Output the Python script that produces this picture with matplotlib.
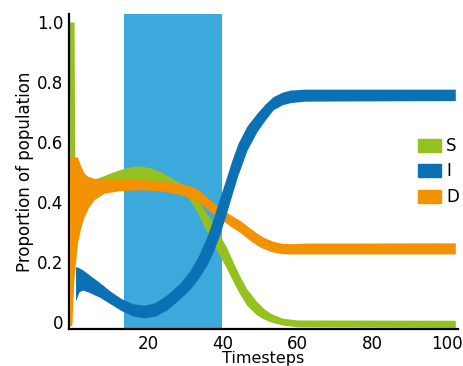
import matplotlib
matplotlib.use("Agg")
import matplotlib.pyplot as plt
import matplotlib.patches as mpatches

# intervention window (timesteps)
lockdown = (13.6, 39.8)

# S band: time, max and min over runs
s_t = [-1.1, -0.9, 0.2, 0.4, 1, 3, 6.3, 8, 10, 13, 16, 18, 21, 24, 27, 29, 31, 33, 35, 37,
       39, 41, 43, 44.5, 46.5, 49, 51, 53, 56, 60, 102.3]
s_hi = [1.0, 1.0, 1.0, 0.54, 0.5, 0.47, 0.479, 0.487, 0.497, 0.51, 0.519, 0.52, 0.513, 0.497,
        0.475, 0.46, 0.44, 0.41, 0.375, 0.34, 0.295, 0.25, 0.195, 0.155, 0.11, 0.07, 0.045,
        0.028, 0.013, 0.007, 0.006]
s_lo = [1.0, 0.45, 0.45, 0.45, 0.45, 0.45, 0.45, 0.45, 0.45, 0.45, 0.45, 0.45, 0.45, 0.45,
        0.45, 0.435, 0.41, 0.37, 0.32, 0.27, 0.225, 0.18, 0.13, 0.095, 0.055, 0.025, 0.01,
        0.0, -0.01, -0.016, -0.018]

# D band
d_t = [-1.0, -0.4, 0.2, 1.1, 2, 2.9, 4, 5.5, 8.2, 12, 16, 20, 24, 28.6, 31, 33, 35, 37.5,
       40, 42, 44.7, 47, 49.2, 51, 53.5, 56, 58, 62, 102.3]
d_hi = [0.55, 0.55, 0.55, 0.55, 0.52, 0.496, 0.485, 0.479, 0.478, 0.477, 0.476, 0.473, 0.469,
        0.462, 0.455, 0.445, 0.425, 0.398, 0.374, 0.358, 0.338, 0.316, 0.296, 0.282, 0.269,
        0.262, 0.261, 0.263, 0.264]
d_lo = [-0.012, -0.012, 0.15, 0.263, 0.315, 0.351, 0.38, 0.407, 0.429, 0.437, 0.44, 0.44,
        0.436, 0.425, 0.415, 0.402, 0.385, 0.36, 0.338, 0.32, 0.298, 0.275, 0.256, 0.244,
        0.233, 0.228, 0.227, 0.227, 0.227]

# I band
i_t = [0.6, 1.5, 2.5, 4, 7, 10, 13, 16, 19, 22, 25, 28.6, 31.3, 33.5, 35.8, 37.5, 39, 40.7,
       42.5, 44.1, 46.5, 49.2, 51.5, 53.5, 56, 58.1, 62, 102.3]
i_hi = [0.185, 0.181, 0.174, 0.16, 0.132, 0.102, 0.077, 0.061, 0.056, 0.065, 0.09, 0.13,
        0.172, 0.22, 0.285, 0.345, 0.405, 0.47, 0.54, 0.595, 0.653, 0.696, 0.728, 0.751,
        0.766, 0.773, 0.776, 0.776]
i_lo = [0.07, 0.1, 0.107, 0.1, 0.083, 0.06, 0.037, 0.02, 0.014, 0.02, 0.04, 0.078, 0.11,
        0.145, 0.19, 0.235, 0.285, 0.35, 0.425, 0.49, 0.572, 0.635, 0.675, 0.707, 0.724,
        0.731, 0.736, 0.738]

labels = ["S", "I", "D"]
colors = {"S": "#95c11f", "I": "#0b71b4", "D": "#f39200"}
xticks = [20, 40, 60, 80, 100]
yticks = [0, 0.2, 0.4, 0.6, 0.8, 1.0]
ytick_labels = ["0", "0.2", "0.4", "0.6", "0.8", "1.0"]

fig = plt.figure(figsize=(4.63, 3.66), dpi=100)
ax = fig.add_axes([0.149, 0.101, 0.84, 0.861])

ax.axvspan(lockdown[0], lockdown[1], color="#3ba9dc", lw=0, zorder=1)
ax.fill_between(s_t, s_lo, s_hi, color=colors["S"], lw=0, zorder=2)
ax.fill_between(d_t, d_lo, d_hi, color=colors["D"], lw=0, zorder=3)
ax.fill_between(i_t, i_lo, i_hi, color=colors["I"], lw=0, zorder=4)

ax.set_xlim(-1.15, 103)
ax.set_ylim(-0.0233, 1.0267)
ax.set_xticks(xticks)
ax.set_yticks(yticks)
ax.set_yticklabels(ytick_labels)
ax.tick_params(length=0, labelsize=12, pad=4)
for side in ("top", "right"):
    ax.spines[side].set_visible(False)
for side in ("left", "bottom"):
    ax.spines[side].set_linewidth(1.6)
ax.set_xlabel("Timesteps", fontsize=11.5, labelpad=-1)
ax.set_ylabel("Proportion of population", fontsize=12, labelpad=2)

handles = [mpatches.Patch(color=colors[k], label=k) for k in labels]
ax.legend(handles=handles, loc="center left", bbox_to_anchor=(0.897, 0.5), frameon=False,
          fontsize=12, borderpad=0, borderaxespad=0, handlelength=1.4, handleheight=0.85,
          handletextpad=0.3, labelspacing=0.45)

fig.savefig("out.png", dpi=100)
